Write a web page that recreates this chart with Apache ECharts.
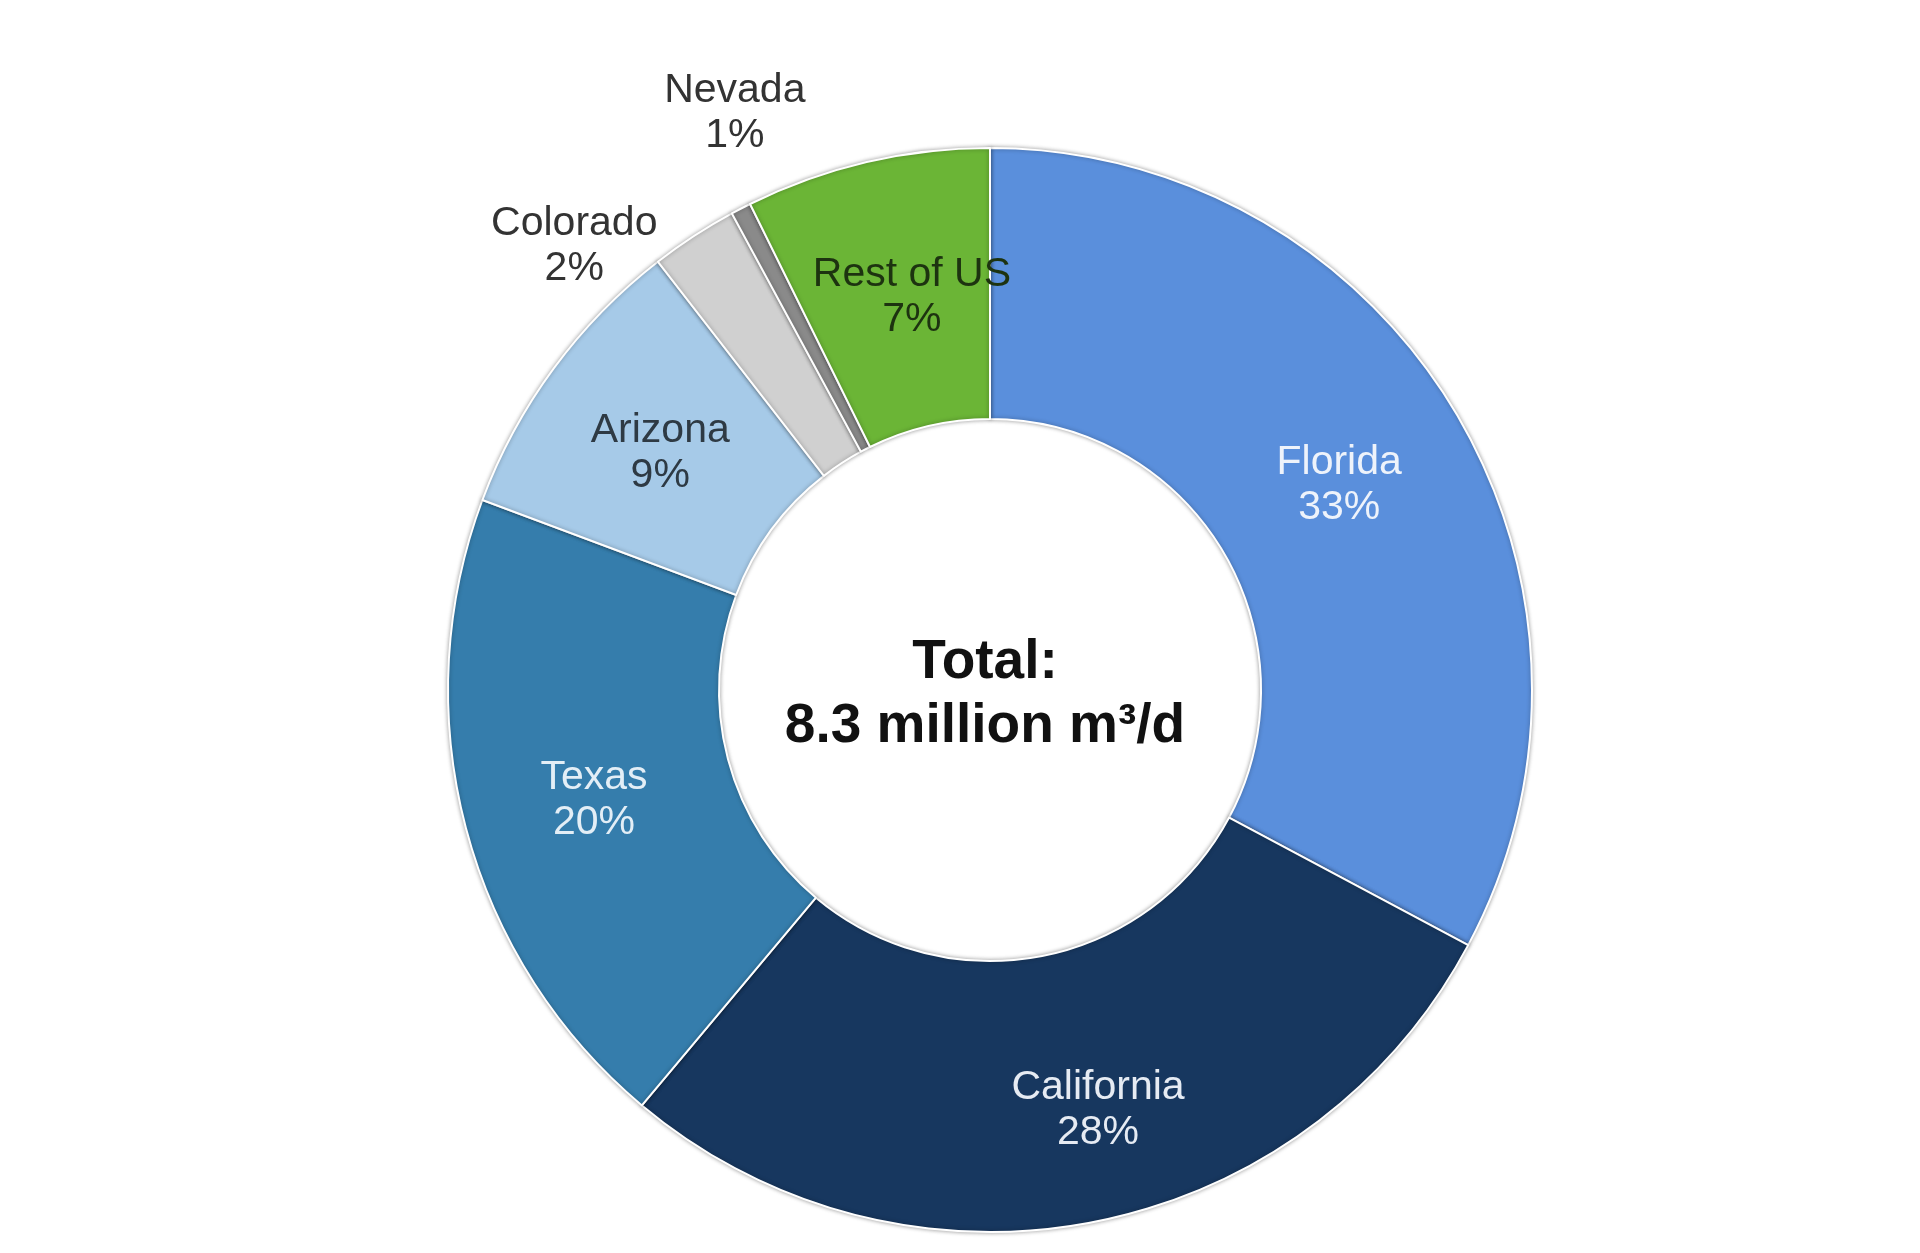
<!DOCTYPE html>
<html>
<head>
<meta charset="utf-8">
<script src="https://cdn.jsdelivr.net/npm/echarts@6/dist/echarts.min.js"></script>
<style>
  html, body { margin: 0; padding: 0; background: #fff; }
  #chart { width: 1920px; height: 1253px; }
</style>
</head>
<body>
<div id="chart"></div>
<script>
// data (share of slice angle, %)
const states = ['Florida', 'California', 'Texas', 'Arizona', 'Colorado', 'Nevada', 'Rest of US'];
const shares = [32.8, 28.3, 19.6, 8.8, 2.6, 0.6, 7.3];
const shareLabels = ['33%', '28%', '20%', '9%', '2%', '1%', '7%'];
const totalLines = ['Total:', '8.3 million m³/d'];

const sliceColors = ['#5a8fdc', '#17375f', '#357dac', '#a6cae8', '#d0d0d0', '#8a8a8a', '#6bb536'];
const labelColors = ['#eef3fb', '#e6ebf3', '#e3eef6', '#2e3a44', '#333333', '#333333', '#1d3310'];
// nudges for labels that sit off the slice middle
const labelShift = {
  0: [-2, 6],
  1: [30, 18],
  2: [0, 6],
  3: [0, 6],
  4: [-192, -101],
  5: [-67, -213],
  6: [15, 6]
};

const chart = echarts.init(document.getElementById('chart'));

const option = {
  backgroundColor: '#ffffff',
  animation: false,
  title: {
    text: totalLines.join('\n'),
    left: 980,
    top: 626,
    textAlign: 'center',
    textStyle: {
      fontFamily: 'Liberation Sans, Arial, sans-serif',
      fontWeight: 'bold',
      fontSize: 55,
      lineHeight: 64,
      color: '#111111'
    }
  },
  series: [
    {
      type: 'pie',
      center: [990, 690],
      radius: [271, 542],
      startAngle: 90,
      clockwise: true,
      avoidLabelOverlap: false,
      itemStyle: {
        borderColor: '#ffffff',
        borderWidth: 2,
        shadowBlur: 4,
        shadowColor: 'rgba(0,0,0,0.35)'
      },
      label: {
        show: true,
        position: 'inside',
        fontFamily: 'Liberation Sans, Arial, sans-serif',
        fontSize: 41,
        lineHeight: 45,
        align: 'center',
        formatter: (p) => `${p.name}\n${shareLabels[p.dataIndex]}`
      },
      labelLine: { show: false },
      labelLayout: (params) => {
        const s = labelShift[params.dataIndex];
        return s ? { dx: s[0], dy: s[1] } : {};
      },
      emphasis: { disabled: true },
      data: states.map((name, i) => ({
        name: name,
        value: shares[i],
        itemStyle: { color: sliceColors[i] },
        label: { color: labelColors[i] }
      }))
    }
  ]
};

chart.setOption(option);
</script>
</body>
</html>
